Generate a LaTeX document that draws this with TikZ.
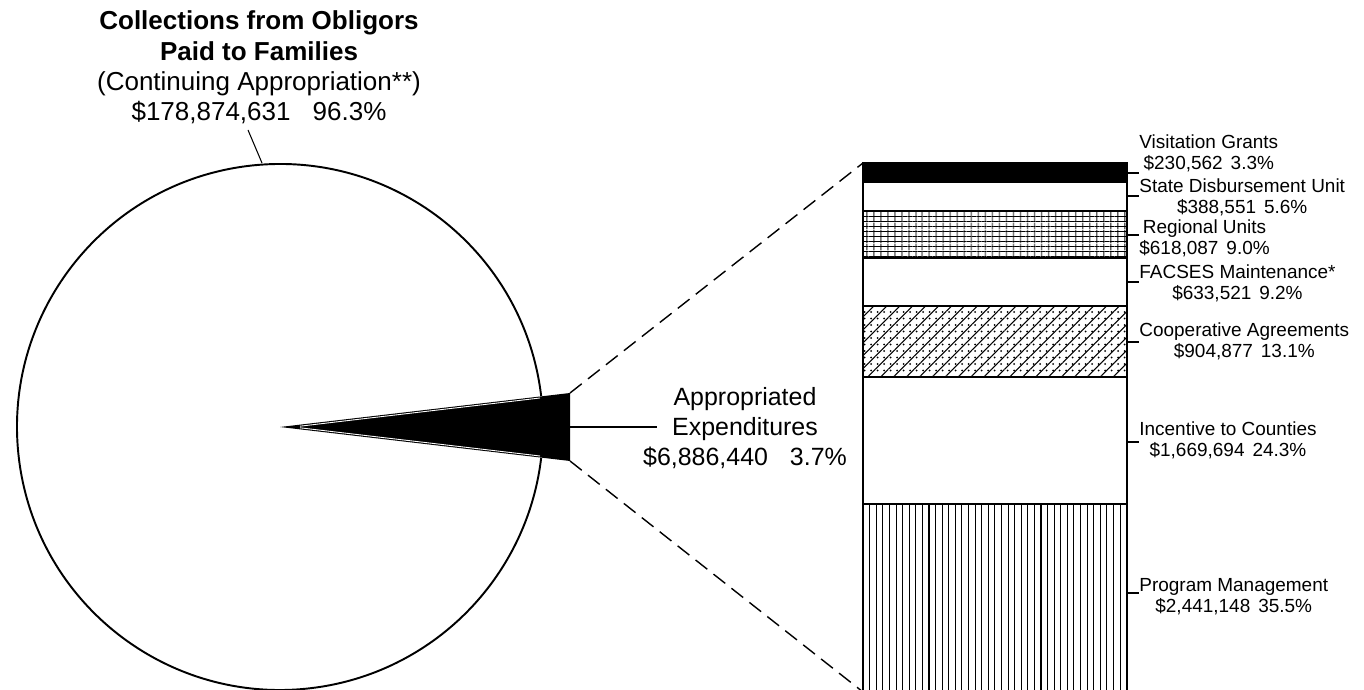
\documentclass[tikz,border=0pt]{standalone}
\usepackage{fontspec}
\setmainfont{Liberation Sans}
\usepackage{tikz}
\usetikzlibrary{
	positioning,
	patterns.meta
}

\tikzset{
	lbl/.style={font=\fontsize{10.8}{11.95}\selectfont, align=center, anchor=west, inner sep=0pt},
	leader/.style={line width=0.6pt},
	band/.style={line width=0.9pt},
	zoomline/.style={dash pattern=on 8.5pt off 4.5pt, line width=0.8pt}
}

\begin{document}
\begin{tikzpicture}[x=0.02cm, y=0.02cm]
		\useasboundingbox (0,0) rectangle (1364,689);

		\coordinate (ctr)     at (280,262);
		\coordinate (wtop)    at (570,296);
		\coordinate (wbot)    at (570,228);
		\coordinate (wmid)    at (570,262);
		\coordinate (bartl)   at (863,526);
		\coordinate (barbl)   at (863,-3);
		\coordinate (ctop)    at (262,526);
		\coordinate (lead)    at (248,559);
		\coordinate (apprend) at (657,262);

		% pie with the cut-out slice
		\draw[line width=1.1pt] (ctr) ++(6.8:263) arc[start angle=6.8, end angle=353.2, radius=263];
		\fill (ctr) -- (wtop) -- (wbot) -- cycle;
		\draw[white, line width=0.5pt] (300,262.8) -- (540,291) (300,261.2) -- (540,233);

		% stacked bar
		\fill (863,507) rectangle (1127,526);
		\fill[pattern={Lines[angle=0, distance=2.8pt, line width=0.45pt]}] (863,431) rectangle (1127,478);
		\fill[pattern={Lines[angle=90, distance=4pt, line width=0.6pt]}] (863,431) rectangle (1127,478);
		\fill[pattern={Lines[angle=45, distance=5.2pt, line width=0.6pt]}] (863,312) rectangle (1127,383);
		\fill[pattern={Dots[distance=3.7pt, radius=0.6pt]}] (863,312) rectangle (1127,383);
		\fill[pattern={Lines[angle=90, distance=3.75pt, line width=0.6pt]}] (863,-3) rectangle (1127,185);
		\draw[band] (863,-3) rectangle (1127,526);
		\foreach \b in {507,478,431,383,312,185}
			\draw[band] (863,\b) -- (1127,\b);

		% zoom lines
		\draw[zoomline] (wtop) -- (bartl);
		\draw[zoomline] (wbot) -- (barbl);

		% labels
		\node[align=center, inner sep=0pt, font=\fontsize{14.8}{17.2}\selectfont] (collect) at (259,621.5)
			{\textbf{Collections from Obligors}\\\textbf{Paid to Families}\\(Continuing Appropriation**)\\\$178,874,631\hspace{0.85em}96.3\%};
		\node[align=center, inner sep=0pt, font=\fontsize{14.2}{17.1}\selectfont] (appr) at (745,261)
			{Appropriated\\Expenditures\\\$6,886,440\hspace{0.88em}3.7\%};

		\node[lbl] (visit)  at (1139,535.5) {Visitation Grants\\\$230,562\hspace{0.42em}3.3\%};
		\node[lbl] (state)  at (1139,492)   {State Disbursement Unit\\\$388,551\hspace{0.42em}5.6\%};
		\node[lbl] (region) at (1139,451)   {Regional Units\\\$618,087\hspace{0.42em}9.0\%};
		\node[lbl] (facses) at (1139,406)   {FACSES Maintenance*\\\$633,521\hspace{0.42em}9.2\%};
		\node[lbl] (coop)   at (1139,347.5) {Cooperative Agreements\\\$904,877\hspace{0.42em}13.1\%};
		\node[lbl] (incent) at (1139,248.5) {Incentive to Counties\\\$1,669,694\hspace{0.42em}24.3\%};
		\node[lbl] (prog)   at (1139,92.5)  {Program Management\\\$2,441,148\hspace{0.42em}35.5\%};

		% leaders
		\draw[leader] (lead) -- (ctop);
		\draw[leader] (wmid) -- (apprend);
		\draw[leader] (1127,516) -- (visit.west |- 0,516);
		\draw[leader] (1127,493) -- (state.west |- 0,493);
		\draw[leader] (1127,454) -- (region.west |- 0,454);
		\draw[leader] (1127,407) -- (facses.west |- 0,407);
		\draw[leader] (1127,347) -- (coop.west |- 0,347);
		\draw[leader] (1127,247) -- (incent.west |- 0,247);
		\draw[leader] (1127,96)  -- (prog.west |- 0,96);
	\end{tikzpicture}
\end{document}
